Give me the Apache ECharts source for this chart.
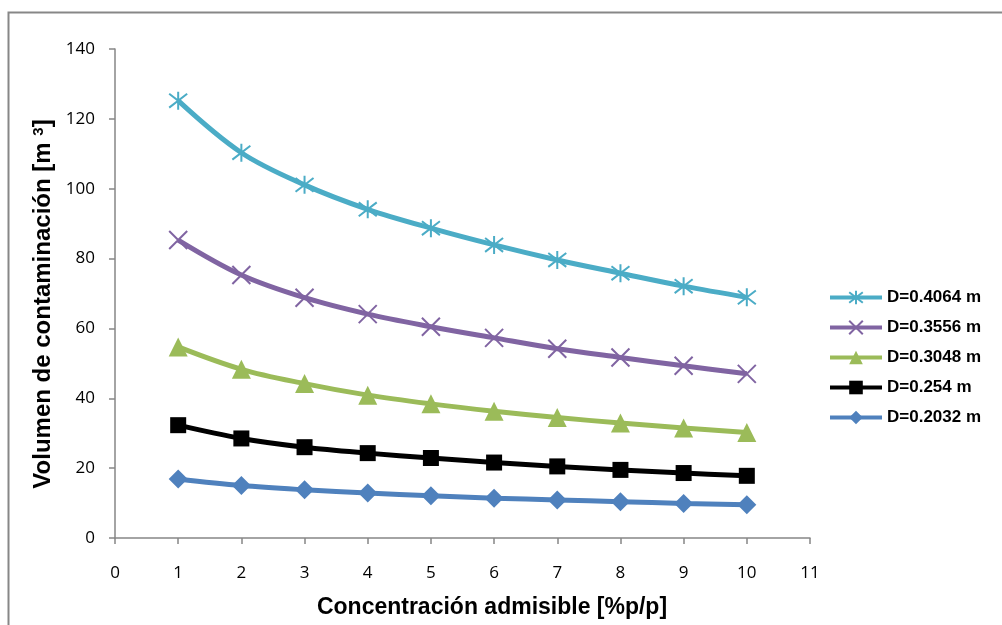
<!DOCTYPE html>
<html>
<head>
<meta charset="utf-8">
<script src="https://cdn.jsdelivr.net/npm/echarts@6/dist/echarts.min.js"></script>
<style>
html,body{margin:0;padding:0;background:#fff;}
#chart{width:1002px;height:625px;}
</style>
</head>
<body>
<div id="chart"></div>
<script>
var xValues = [1, 2, 3, 4, 5, 6, 7, 8, 9, 10];
var seriesNames = ['D=0.4064 m', 'D=0.3556 m', 'D=0.3048 m', 'D=0.254 m', 'D=0.2032 m'];
var d04064 = [125.2, 110.3, 101.1, 94.1, 88.7, 83.9, 79.6, 75.8, 72.1, 68.9];
var d03556 = [85.3, 75.3, 68.8, 64.1, 60.5, 57.3, 54.2, 51.7, 49.3, 47.0];
var d03048 = [54.7, 48.3, 44.2, 40.9, 38.4, 36.3, 34.5, 32.9, 31.5, 30.2];
var d0254 = [32.3, 28.5, 26.0, 24.3, 22.9, 21.6, 20.5, 19.5, 18.6, 17.8];
var d02032 = [16.9, 15.0, 13.8, 12.9, 12.1, 11.4, 10.9, 10.4, 9.9, 9.5];
var xTicks = [0, 1, 2, 3, 4, 5, 6, 7, 8, 9, 10, 11];
var yTicks = [0, 20, 40, 60, 80, 100, 120, 140];
var xTitle = 'Concentración admisible [%p/p]';
var yTitleMain = 'Volumen de contaminación [m ';
var yTitleSup = '3';
var yTitleEnd = ']';

var colors = ['#4BACC6', '#8064A2', '#9BBB59', '#000000', '#4F81BD'];
var starPath = 'path://M0,0L10,10M10,0L0,10M5,-1.5L5,11.5';
var crossPath = 'path://M0,0L10,10M10,0L0,10';
var symbols = [starPath, crossPath, 'triangle', 'rect', 'diamond'];
var sizes = [18, 18, 19, 16, 19];
var dataSets = [d04064, d03556, d03048, d0254, d02032];

function pairs(arr) {
  return xValues.map(function (x, i) { return [x, arr[i]]; });
}

var series = dataSets.map(function (arr, k) {
  var isStroke = k < 2;
  return {
    name: seriesNames[k],
    type: 'line',
    data: pairs(arr),
    smooth: 0.35,
    symbol: symbols[k],
    symbolSize: sizes[k],
    showAllSymbol: true,
    lineStyle: { color: colors[k], width: 5 },
    itemStyle: isStroke ? { color: 'rgba(0,0,0,0)', borderColor: colors[k], borderWidth: 2 } : { color: colors[k], borderWidth: 0 },
    emphasis: { disabled: true },
    z: 10 - k
  };
});

var chart = echarts.init(document.getElementById('chart'), null, { renderer: 'canvas' });
chart.setOption({
  animation: false,
  backgroundColor: '#ffffff',
  graphic: [{
    type: 'rect',
    shape: { x: 8.5, y: 12.5, width: 1100, height: 700 },
    style: { fill: 'none', stroke: '#878787', lineWidth: 2 },
    silent: true
  }, {
    type: 'text',
    x: 492,
    y: 608,
    style: {
      text: xTitle,
      align: 'center',
      verticalAlign: 'middle',
      font: 'bold 23px "Liberation Sans"',
      fill: '#000'
    },
    silent: true
  }, {
    type: 'text',
    x: 43,
    y: 304,
    rotation: Math.PI / 2,
    style: {
      text: yTitleMain + '{sup|' + yTitleSup + '}' + yTitleEnd,
      align: 'center',
      verticalAlign: 'middle',
      font: 'bold 24px "Liberation Sans"',
      fill: '#000',
      rich: {
        sup: { font: 'bold 15px "Liberation Sans"', fill: '#000', verticalAlign: 'top', padding: [0, 0, 9, 0] }
      }
    },
    silent: true
  }],
  grid: { left: 115, right: 192, top: 49, bottom: 87 },
  legend: {
    orient: 'vertical',
    left: 828,
    top: 289,
    padding: 0,
    itemWidth: 52,
    itemHeight: 17,
    itemGap: 13,
    data: seriesNames,
    lineStyle: { width: 4 },
    textStyle: { fontFamily: 'Liberation Sans', fontWeight: 'bold', fontSize: 17, color: '#000' }
  },
  xAxis: {
    type: 'value',
    min: 0,
    max: 11,
    interval: 1,
    axisLine: { lineStyle: { color: '#868686', width: 1.5 } },
    axisTick: { show: true, length: 6, lineStyle: { color: '#868686', width: 1.5 } },
    axisLabel: { fontFamily: 'Open Sans', fontSize: 17, color: '#000', margin: 27,
      formatter: function (v) { return xTicks.indexOf(v) >= 0 ? String(v) : ''; } },
    splitLine: { show: false }
  },
  yAxis: {
    type: 'value',
    min: 0,
    max: 140,
    interval: 20,
    axisLine: { show: true, lineStyle: { color: '#868686', width: 1.5 } },
    axisTick: { show: true, length: 6, lineStyle: { color: '#868686', width: 1.5 } },
    axisLabel: { fontFamily: 'Open Sans', fontSize: 17, color: '#000', margin: 20,
      formatter: function (v) { return yTicks.indexOf(v) >= 0 ? String(v) : ''; } },
    splitLine: { show: false }
  },
  series: series
});
</script>
</body>
</html>
